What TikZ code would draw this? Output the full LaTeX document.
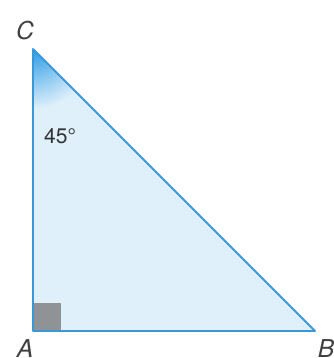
\documentclass[tikz,border=0pt]{standalone}
\usepackage{fontspec}
\setmainfont{TeX Gyre Heros}
\usetikzlibrary{positioning}
\usetikzlibrary{calc}

\definecolor{edgeblue}{HTML}{3A98DA}
\definecolor{fillblue}{HTML}{DFF0FB}
\definecolor{deepblue}{HTML}{2C9BE6}
\definecolor{squaregray}{HTML}{8F9396}

\begin{document}
\begin{tikzpicture}[x=0.03cm, y=0.03cm,
    vertex/.style={inner sep=0pt, minimum size=0pt, font=\fontsize{21}{24}\selectfont\itshape, text=black!75},
    side/.style={draw=edgeblue, line width=1.6pt, line join=round}]

        \useasboundingbox (0, 0) rectangle (334, 358);

        \coordinate (A) at (33, 27);
        \coordinate (B) at (315, 27);
        \coordinate (C) at (33, 309);

        % filled triangle with a darker tint at C
        \fill[fillblue] (A) -- (B) -- (C) -- cycle;
        \begin{scope}
          \clip (A) -- (B) -- (C) -- cycle;
          \shade[inner color=deepblue, outer color=fillblue] (C) circle (60);
        \end{scope}

        % right angle mark
        \fill[squaregray] (A) rectangle ($(A) + (28, 28)$);

        \draw[side] (A) -- (B) -- (C) -- cycle;

        \node[vertex] (lC) at (25, 327) {C};
        \node[vertex] (lA) at (25, 9) {A};
        \node[vertex] (lB) at (326, 9) {B};

        \node[font=\fontsize{18}{20}\selectfont, text=black!80] (angC) at (60, 222) {45°};

      \end{tikzpicture}
\end{document}
